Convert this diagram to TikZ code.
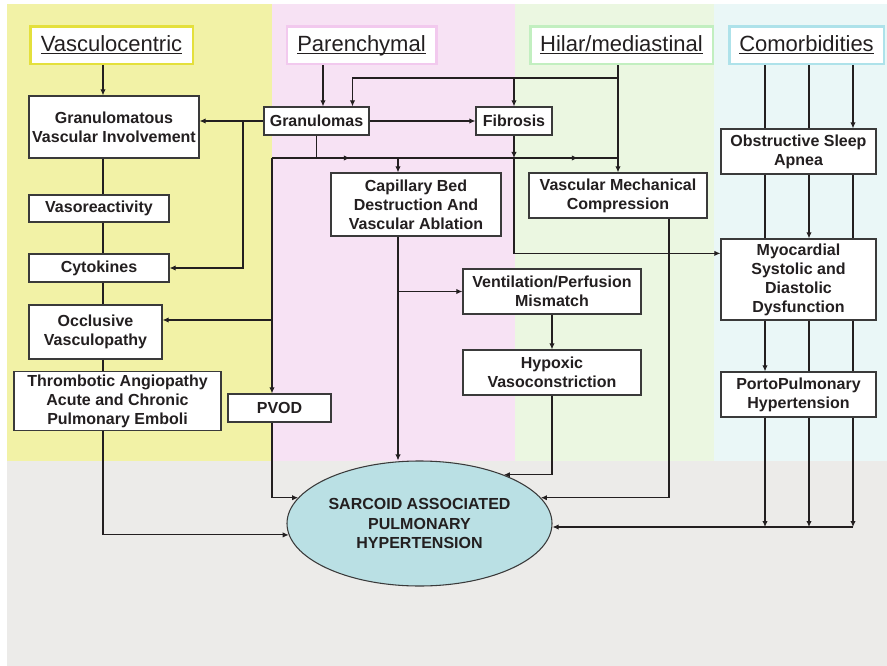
\documentclass[tikz,border=0pt]{standalone}
\usepackage{fontspec}
\setmainfont{Liberation Sans}
\usepackage{tikz}
\usetikzlibrary{arrows.meta,positioning,calc,shapes.geometric,decorations.markings}

\definecolor{vascbg}{HTML}{F2F2A6}
\definecolor{parenbg}{HTML}{F7E2F4}
\definecolor{hilarbg}{HTML}{EBF7E1}
\definecolor{comorbg}{HTML}{EAF7F7}
\definecolor{basebg}{HTML}{ECEBE9}
\definecolor{sahfill}{HTML}{BAE0E4}
\definecolor{boxline}{HTML}{3A3A3A}
\definecolor{textcol}{HTML}{231F20}
\definecolor{vascline}{HTML}{E4E03C}
\definecolor{parenline}{HTML}{F2C9EE}
\definecolor{hilarline}{HTML}{C2EFC0}
\definecolor{comorline}{HTML}{AEE2EA}

\newcommand{\hdul}[1]{\underline{\smash{#1}}\vphantom{X}}

\begin{document}
\begin{tikzpicture}[
            x=0.75pt, y=-0.75pt,
            >={Latex[length=4.5pt,width=4pt]},
            box/.style={draw=boxline, line width=0.9pt, fill=white, align=center, inner sep=2pt,
                text=textcol, font=\bfseries\fontsize{12}{14.3}\selectfont},
            head/.style={draw=#1, line width=2pt, fill=white, inner sep=0pt, minimum height=28pt,
                text=textcol, font=\fontsize{16.5}{18}\selectfont},
            link/.style={draw=textcol, line width=0.8pt},
            midarr/.style={postaction={decorate}, decoration={markings,
                mark=at position 0.225 with {\arrow{>}}, mark=at position 0.884 with {\arrow{>}}}}
        ]
            \fill[white] (0,0) rectangle (887,666);
            \fill[vascbg] (7,4) rectangle (272,461);
            \fill[parenbg] (272,4) rectangle (515,461);
            \fill[hilarbg] (515,4) rectangle (714,461);
            \fill[comorbg] (714,4) rectangle (887,461);
            \fill[basebg] (7,461) rectangle (887,666);
            \useasboundingbox (0,0) rectangle (887,666);

            \node[head=vascline, minimum width=122pt] (h1) at (111.5,45.5) {\hdul{Vasculocentric}};
            \node[head=parenline, minimum width=112pt] (h2) at (361.5,45.5) {\hdul{Parenchymal}};
            \node[head=hilarline, minimum width=137pt] (h3) at (621.5,45.5) {\hdul{Hilar/mediastinal}};
            \node[head=comorline, minimum width=116pt] (h4) at (806.5,45.5) {\hdul{Comorbidities}};

            \node[box, minimum width=127.5pt, minimum height=46.5pt] (gvi) at (114,127) {Granulomatous\\Vascular Involvement};
            \node[box, minimum width=105pt, minimum height=20.25pt] (vaso) at (99,208.5) {Vasoreactivity};
            \node[box, minimum width=105pt, minimum height=21pt] (cyto) at (99,268) {Cytokines};
            \node[box, minimum width=99.75pt, minimum height=40.5pt] (occl) at (95.5,332) {Occlusive\\Vasculopathy};
            \node[box, minimum width=155.25pt, minimum height=43.5pt] (thromb) at (117.5,401) {Thrombotic Angiopathy\\Acute and Chronic\\Pulmonary Emboli};
            \node[box, minimum width=77.25pt, minimum height=21pt] (pvod) at (279.5,408) {PVOD};
            \node[box, minimum width=78.75pt, minimum height=21pt] (gran) at (316.5,121) {Granulomas};
            \node[box, minimum width=57pt, minimum height=21pt] (fib) at (514,121) {Fibrosis};
            \node[box, minimum width=127.5pt, minimum height=47.25pt] (cap) at (416,204.5) {Capillary Bed\\Destruction And\\Vascular Ablation};
            \node[box, minimum width=133.5pt, minimum height=33.75pt] (vmc) at (618,195.5) {Vascular Mechanical\\Compression};
            \node[box, minimum width=133.5pt, minimum height=33.75pt] (vp) at (552,291.5) {Ventilation/Perfusion\\Mismatch};
            \node[box, minimum width=133.5pt, minimum height=33.75pt] (hyp) at (552,372.5) {Hypoxic\\Vasoconstriction};
            \node[box, minimum width=116.25pt, minimum height=33.75pt] (osa) at (798.5,151.5) {Obstructive Sleep\\Apnea};
            \node[box, minimum width=116.25pt, minimum height=60.75pt] (myo) at (798.5,279.5) {Myocardial\\Systolic and\\Diastolic\\Dysfunction};
            \node[box, minimum width=116.25pt, minimum height=33.75pt] (porto) at (798.5,394.5) {PortoPulmonary\\Hypertension};
            \node[box, ellipse, fill=sahfill, line width=0.8pt, inner sep=0pt, minimum width=198.75pt, minimum height=93.75pt] (sah) at (419.5,523.5) {SARCOID ASSOCIATED\\PULMONARY\\HYPERTENSION};

            \coordinate (vcol) at (103,0);
            \coordinate (lbr) at (243,0);
            \coordinate (pcol) at (272,0);
            \coordinate (gin) at (323,0);
            \coordinate (rowA) at (0,158);
            \coordinate (hj) at (618,78);
            \coordinate (brow) at (0,527);
            \coordinate (cA) at (765,0);
            \coordinate (cB) at (809,0);
            \coordinate (cC) at (853,0);
            \coordinate (ccol) at ($(cap.north)+(-18,0)$);
            \coordinate (mcol) at ($(vmc.south)+(51,0)$);
            \coordinate (obr) at ($(occl.east)+(0,-12)$);

            \draw[link,->] (h1.south -| vcol) -- (gvi.north -| vcol);
            \draw[link] (gvi.south -| vcol) -- (vaso.north -| vcol);
            \draw[link] (vaso.south -| vcol) -- (cyto.north -| vcol);
            \draw[link] (cyto.south -| vcol) -- (occl.north -| vcol);
            \draw[link] (occl.south -| vcol) -- (thromb.north -| vcol);
            \draw[link,->] (thromb.south -| vcol) |- (sah.185);

            \draw[link,->] (h2.south -| gin) -- (gran.north -| gin);
            \draw[link,->] (gran.west) -- (gran.west -| gvi.east);
            \draw[link,->] (gran.west -| lbr) |- (cyto.east);
            \draw[link,->] (gran.east) -- (fib.west);

            \draw[link,->] (h3.south -| vmc.north) -- (vmc.north);
            \draw[link,->] (hj) -| ($(gran.north)+(36,0)$);
            \draw[link,->] (hj -| fib.north) -- (fib.north);

            \draw[link] (gran.south) -- (gran.south |- rowA);
            \draw[link,midarr] (pcol |- rowA) -- (vmc.north |- rowA);
            \draw[link,->] (pcol |- rowA) -- (pcol |- pvod.north);
            \draw[link,->] (pcol |- obr) -- (obr);
            \draw[link,->] (pcol |- pvod.south) |- (sah.168);
            \draw[link,->] (fib.south) -- (fib.south |- rowA);
            \draw[link,->] (fib.south |- rowA) |- ($(myo.north west)+(0,15)$);

            \draw[link,->] (ccol |- rowA) -- (ccol);
            \draw[link,->] (ccol |- cap.south) -- (ccol |- sah.north);
            \draw[link,->] (ccol |- vp.west) -- (vp.west);
            \draw[link,->] (vp.south) -- (hyp.north);
            \draw[link,->] (hyp.south) |- (sah.30);
            \draw[link,->] (mcol) |- (sah.12);

            \foreach \c in {cA,cB} \draw[link] (h4.south -| \c) -- (osa.north -| \c);
            \draw[link,->] (h4.south -| cC) -- (osa.north -| cC);
            \foreach \c in {cA,cC} \draw[link] (osa.south -| \c) -- (myo.north -| \c);
            \draw[link,->] (osa.south -| cB) -- (myo.north -| cB);
            \foreach \c in {cB,cC} \draw[link] (myo.south -| \c) -- (porto.north -| \c);
            \draw[link,->] (myo.south -| cA) -- (porto.north -| cA);
            \foreach \c in {cA,cB,cC} \draw[link,->] (porto.south -| \c) -- (brow -| \c);
            \draw[link,->] (brow -| cC) -- (brow -| sah.east);
        \end{tikzpicture}
\end{document}
